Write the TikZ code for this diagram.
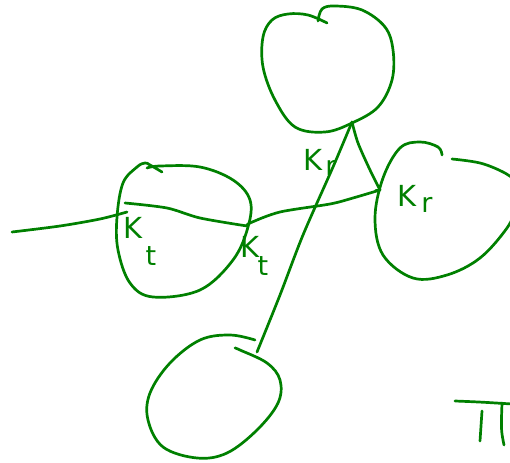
\documentclass[tikz,border=0pt]{standalone}
\usepackage{fontspec}
\setmainfont{DejaVu Sans}
\definecolor{pen}{RGB}{0,128,0}
\tikzset{
  ink/.style={draw=pen, line width=2.7pt, line cap=round, line join=round},
  lab/.style={text=pen, inner sep=0pt, font=\fontsize{29}{29}\selectfont},
  sublab/.style={text=pen, inner sep=0pt, font=\fontsize{27}{27}\selectfont}
}
\begin{document}
\begin{tikzpicture}[x=1pt,y=-1pt]
\useasboundingbox (0,0) rectangle (510,462);
% top blob
\draw[ink] plot[smooth,tension=0.6] coordinates {(318,21) (322,9) (335,6) (362,10) (385,27) (393,50) (392,80) (378,107) (352,123) (325,132) (295,127) (275,100) (263,67) (263,37) (272,20) (288,14) (308,15) (327,23)};
% key points
\coordinate (apex) at (352,122);
\coordinate (rj) at (380,190);
\coordinate (lj) at (247,226);
\coordinate (bend) at (257,352);
\coordinate (lend) at (12,232);
\coordinate (lin) at (127,212);
% triangle
\draw[ink] plot[smooth,tension=0.5] coordinates {(apex) (333,167) (303,235) (280,295) (bend)};
\draw[ink] plot[smooth,tension=0.5] coordinates {(apex) (358,143) (370,170) (rj)};
% cross lines
\draw[ink] plot[smooth,tension=0.5] coordinates {(rj) (353,198) (330,204) (280,212) (250,223) (lj)};
\draw[ink] plot[smooth,tension=0.5] coordinates {(lj) (200,218) (167,208) (125,203)};
\draw[ink] plot[smooth,tension=0.5] coordinates {(lend) (60,226) (100,219) (lin)};
\draw[ink] (rj) -- ++(-4,0);
% left blob
\draw[ink] plot[smooth,tension=0.6] coordinates {(147,168) (160,166) (200,167) (233,180) (250,200) (248,227) (233,260) (200,290) (153,297) (130,283) (118,250) (117,217) (123,183) (137,167) (145,163) (150,165) (162,172)};
% right blob
\draw[ink] plot[smooth,tension=0.6] coordinates {(442,155) (438,147) (420,142) (400,148) (383,178) (375,218) (383,255) (413,278) (447,275) (480,258) (507,228) (518,205)};
\draw[ink] plot[smooth,tension=0.6] coordinates {(452,159) (480,163) (503,172) (518,182)};
% bottom blob
\draw[ink] plot[smooth,tension=0.6] coordinates {(255,340) (230,335) (200,340) (170,363) (150,393) (148,420) (163,447) (197,458) (227,453) (257,430) (278,403) (280,380) (267,363) (240,350) (235,348)};
% labels
\node[lab] (k1) at (133,228) {K};
\node[sublab] (t1) at (151,256) {t};
\node[lab] (k2) at (250,247) {K};
\node[sublab] (t2) at (263,266) {t};
\node[lab] (k3) at (313,160) {K};
\node[sublab] (r3) at (331,168) {r};
\node[lab] (k4) at (407,196) {K};
\node[sublab] (r4) at (427,205) {r};
% pi mark at right edge
\draw[ink] (455,401) .. controls (480,402) .. (512,404);
\draw[ink] (482,411) -- (480,441);
\draw[ink] (502,403) .. controls (501,430) .. (504,445);
\end{tikzpicture}
\end{document}
